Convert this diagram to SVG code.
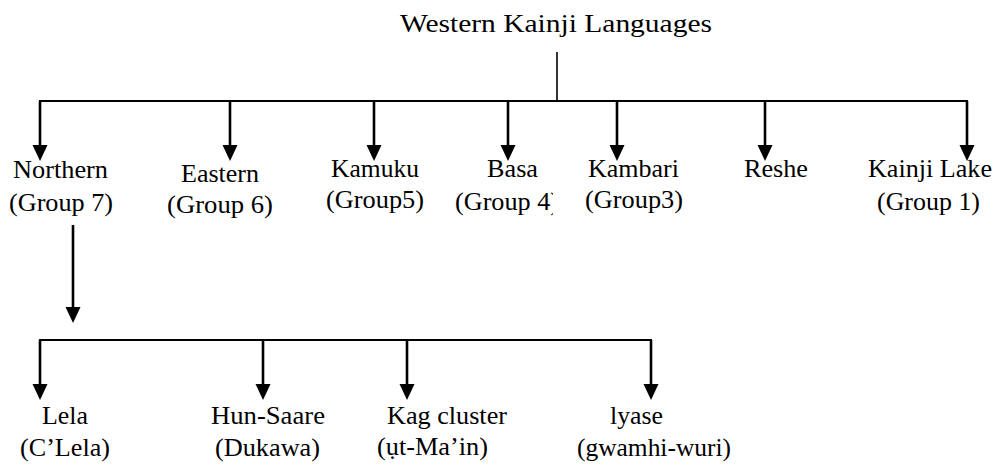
<svg xmlns="http://www.w3.org/2000/svg" width="998" height="468" viewBox="0 0 998 468">
  <style>
    text { font-family: "Liberation Serif", "Times New Roman", serif; font-size: 25px; fill: #000; }
    .trunk { stroke: #000; stroke-width: 1.6; fill: none; }
    .bar { stroke: #000; stroke-width: 2.2; fill: none; }
    .drop { stroke: #000; stroke-width: 2.6; fill: none; marker-end: url(#head); }
  </style>
  <defs>
    <marker id="head" markerUnits="userSpaceOnUse" viewBox="0 -8 16 16" refX="0" refY="0" markerWidth="16" markerHeight="16" orient="auto">
      <path d="M0,-7.5 L16,0 L0,7.5 Z" fill="#000"/>
    </marker>
    <clipPath id="clip-basa">
      <rect x="440" y="185" width="113" height="40"/>
    </clipPath>
  </defs>

  <!-- connectors -->
  <g id="connectors">
    <line class="trunk" x1="557" y1="52" x2="557" y2="101"/>
    <line class="bar" x1="39" y1="101" x2="968" y2="101"/>
    <line class="drop" x1="40" y1="101" x2="40" y2="145"/>
    <line class="drop" x1="230" y1="101" x2="230" y2="145"/>
    <line class="drop" x1="374" y1="101" x2="374" y2="145"/>
    <line class="drop" x1="508" y1="101" x2="508" y2="145"/>
    <line class="drop" x1="617" y1="101" x2="617" y2="145"/>
    <line class="drop" x1="765" y1="101" x2="765" y2="145"/>
    <line class="drop" x1="967" y1="101" x2="967" y2="145"/>

    <line class="drop" x1="73" y1="225" x2="73" y2="307"/>
    <line class="bar" x1="39" y1="340" x2="652" y2="340"/>
    <line class="drop" x1="40" y1="340" x2="40" y2="384"/>
    <line class="drop" x1="263" y1="340" x2="263" y2="384"/>
    <line class="drop" x1="407" y1="340" x2="407" y2="384"/>
    <line class="drop" x1="651" y1="340" x2="651" y2="384"/>
  </g>

  <!-- root -->
  <g id="western-kainji">
    <text x="400" y="32" textLength="312" lengthAdjust="spacingAndGlyphs">Western Kainji Languages</text>
  </g>

  <!-- first-level branches -->
  <g id="northern">
    <text x="13" y="178" textLength="95" lengthAdjust="spacingAndGlyphs">Northern</text>
    <text x="9" y="211" textLength="104" lengthAdjust="spacingAndGlyphs">(Group 7)</text>
  </g>
  <g id="eastern">
    <text x="181" y="182" textLength="78" lengthAdjust="spacingAndGlyphs">Eastern</text>
    <text x="167" y="213" textLength="106" lengthAdjust="spacingAndGlyphs">(Group 6)</text>
  </g>
  <g id="kamuku">
    <text x="331" y="177" textLength="88" lengthAdjust="spacingAndGlyphs">Kamuku</text>
    <text x="326" y="208" textLength="98" lengthAdjust="spacingAndGlyphs">(Group5)</text>
  </g>
  <g id="basa">
    <text x="487" y="177" textLength="51" lengthAdjust="spacingAndGlyphs">Basa</text>
    <text x="455" y="210" textLength="104" lengthAdjust="spacingAndGlyphs" clip-path="url(#clip-basa)">(Group 4)</text>
  </g>
  <g id="kambari">
    <text x="588" y="177" textLength="91" lengthAdjust="spacingAndGlyphs">Kambari</text>
    <text x="585" y="208" textLength="98" lengthAdjust="spacingAndGlyphs">(Group3)</text>
  </g>
  <g id="reshe">
    <text x="744" y="177" textLength="64" lengthAdjust="spacingAndGlyphs">Reshe</text>
  </g>
  <g id="kainji-lake">
    <text x="868" y="177" textLength="124" lengthAdjust="spacingAndGlyphs">Kainji Lake</text>
    <text x="877" y="210" textLength="103" lengthAdjust="spacingAndGlyphs">(Group 1)</text>
  </g>

  <!-- Northern subgroups -->
  <g id="lela">
    <text x="42" y="424" textLength="46" lengthAdjust="spacingAndGlyphs">Lela</text>
    <text x="20" y="456" textLength="90" lengthAdjust="spacingAndGlyphs">(C’Lela)</text>
  </g>
  <g id="hun-saare">
    <text x="211" y="424" textLength="114" lengthAdjust="spacingAndGlyphs">Hun-Saare</text>
    <text x="215" y="456" textLength="105" lengthAdjust="spacingAndGlyphs">(Dukawa)</text>
  </g>
  <g id="kag-cluster">
    <text x="387" y="424" textLength="120" lengthAdjust="spacingAndGlyphs">Kag cluster</text>
    <text x="377" y="455" textLength="111" lengthAdjust="spacingAndGlyphs">(ụt-Ma’in)</text>
  </g>
  <g id="iyase">
    <text x="610" y="424" textLength="53" lengthAdjust="spacingAndGlyphs">lyase</text>
    <text x="577" y="456" textLength="154" lengthAdjust="spacingAndGlyphs">(gwamhi-wuri)</text>
  </g>
</svg>
